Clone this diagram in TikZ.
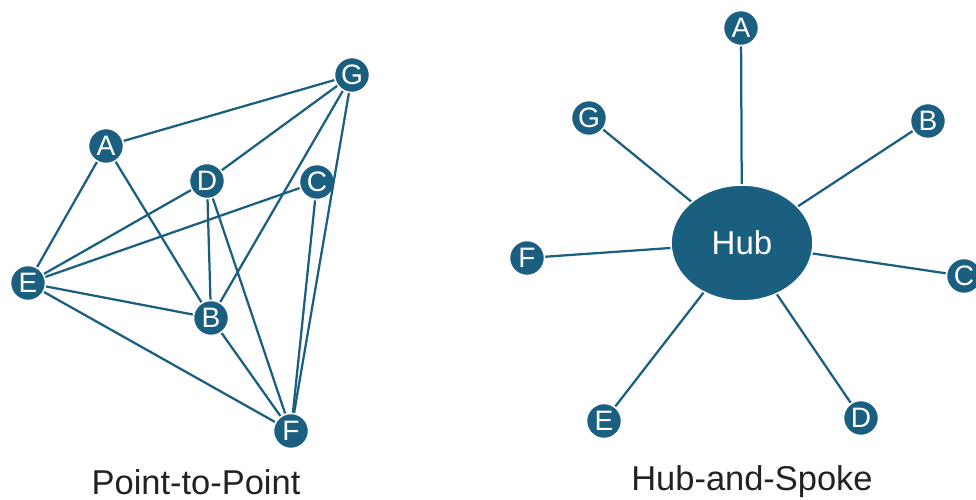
\documentclass[tikz,border=0pt]{standalone}
\usepackage{fontspec}
\setmainfont{Liberation Sans}
\usetikzlibrary{shapes.geometric}
\definecolor{netblue}{HTML}{1A5E80}
\definecolor{captiongray}{HTML}{222222}

\begin{document}
\begin{tikzpicture}[
                    x=0.025cm,
                    y=-0.025cm,
                    line width=1.6pt,
                    netblue,
                    site/.style={circle, fill=netblue, draw=white, line width=1.2pt,
                                 minimum size=0.88cm, inner sep=0pt,
                                 text=white, font=\fontsize{20}{20}\selectfont},
                    hub/.style={ellipse, fill=netblue, draw=white, line width=1.2pt,
                                minimum width=3.55cm, minimum height=2.9cm, inner sep=0pt,
                                text=white, font=\fontsize{23.5}{23.5}\selectfont},
                    caption/.style={text=captiongray, font=\fontsize{24.5}{24.5}\selectfont}
                ]
                \useasboundingbox (0,0) rectangle (976,500);

                % point-to-point
                \node (G)   at (352,75)  [site] {G};
                \node (A)   at (106,146) [site] {A};
                \node (D)   at (207,181) [site] {D};
                \node (C)   at (317,182) [site] {C};
                \node (E)   at (28,283)  [site] {E};
                \node (B)   at (211,318) [site] {B};
                \node (F)   at (291,431) [site] {F};

                % hub-and-spoke
                \node (Hub) at (742,243) [hub]  {Hub};
                \node (A2)  at (741,28)  [site] {A};
                \node (G2)  at (589,118) [site] {G};
                \node (B2)  at (928,121) [site] {B};
                \node (F2)  at (527,258) [site] {F};
                \node (C2)  at (964,276) [site] {C};
                \node (E2)  at (604,421) [site] {E};
                \node (D2)  at (861,418) [site] {D};

                \node (P2P) at (196,482) [caption] {Point-to-Point};
                \node (HaS) at (752,482) [caption] {Hub-and-Spoke};

                \path
                (A) edge (G)
                (A) edge (E)
                (A) edge (B)
                (D) edge (G)
                (D) edge (E)
                (D) edge (B)
                (D) edge (F)
                (C) edge (E)
                (C) edge (F)
                (G) edge (B)
                (G) edge (F)
                (E) edge (B)
                (E) edge (F)
                (B) edge (F)
                ;

                \path
                (Hub) edge (A2)
                (Hub) edge (G2)
                (Hub) edge (B2)
                (Hub) edge (F2)
                (Hub) edge (C2)
                (Hub) edge (E2)
                (Hub) edge (D2)
                ;
            \end{tikzpicture}
\end{document}
